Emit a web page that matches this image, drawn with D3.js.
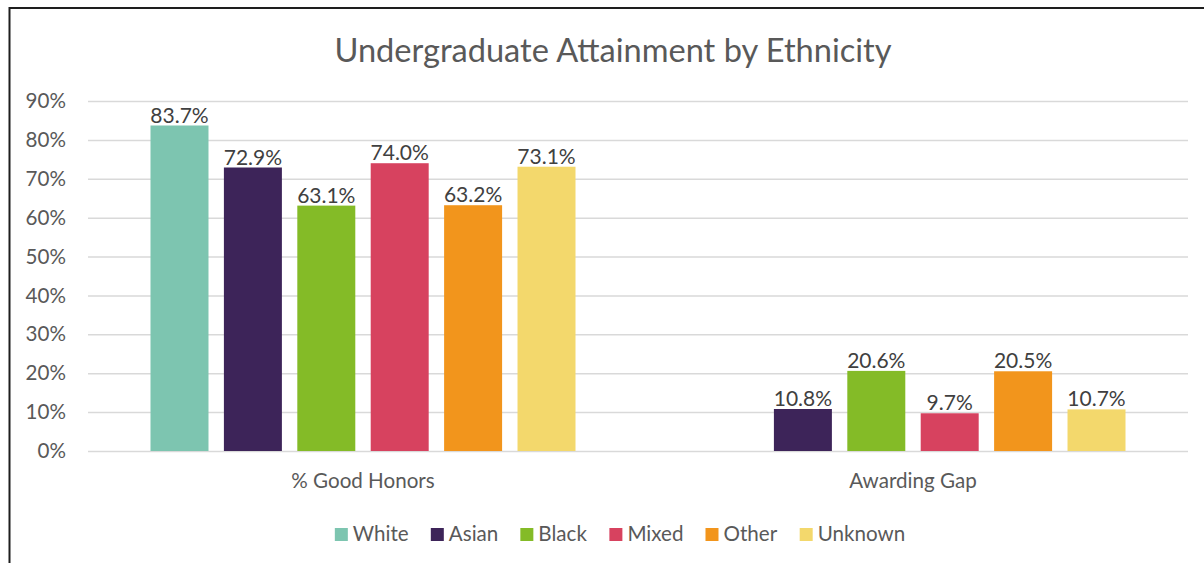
<!DOCTYPE html>
<html>
<head>
<meta charset="utf-8">
<script src="https://cdn.jsdelivr.net/npm/d3@7"></script>
<style>
  html, body { margin: 0; padding: 0; background: #fff; }
  svg { display: block; font-family: Lato, "Open Sans", sans-serif; }
</style>
</head>
<body>
<svg id="chart" width="1204" height="563"></svg>
<script>
// Chart data
const groups = ["% Good Honors", "Awarding Gap"];
const ethnicities = ["White", "Asian", "Black", "Mixed", "Other", "Unknown"];
const goodHonors = [83.7, 72.9, 63.1, 74.0, 63.2, 73.1];
const awardingGap = [null, 10.8, 20.6, 9.7, 20.5, 10.7];
const yTicks = [0, 10, 20, 30, 40, 50, 60, 70, 80, 90];
const colors = ["#7dc5b0", "#3d2459", "#84bb27", "#d7425f", "#f2951c", "#f3d86c"];
const title = "Undergraduate Attainment by Ethnicity";

const seriesByGroup = [goodHonors, awardingGap];
const rows = [];
groups.forEach((g, gi) => {
  ethnicities.forEach((e, ei) => {
    const v = seriesByGroup[gi][ei];
    if (v !== null) rows.push({ group: g, eth: e, value: v });
  });
});

const labelSize = 20.6;
const svg = d3.select("#chart");
const plot = { left: 88, right: 1188, top: 101, bottom: 451 };

// Frame
svg.append("rect")
  .attr("x", 9.5).attr("y", 8)
  .attr("width", 1300).attr("height", 700)
  .attr("fill", "none").attr("stroke", "#1e1e1e").attr("stroke-width", 2);

// Title
svg.append("text")
  .attr("x", 613).attr("y", 62)
  .attr("text-anchor", "middle")
  .attr("font-size", 32.6)
  .attr("fill", "#595959")
  .text(title);

// Scales
const y = d3.scaleLinear().domain([0, 90]).range([plot.bottom, plot.top]);
const x0 = d3.scaleBand().domain(groups).range([plot.left, plot.right]).padding(0);
const inset = 62.5;
const x1 = d3.scaleBand().domain(ethnicities)
  .range([inset, x0.bandwidth() - inset])
  .paddingInner(0.21).paddingOuter(0);
const color = d3.scaleOrdinal().domain(ethnicities).range(colors);

// Gridlines + y axis labels
const yAxis = d3.axisLeft(y).tickValues(yTicks)
  .tickSize(-(plot.right - plot.left))
  .tickPadding(22)
  .tickFormat(d => d + "%");
const ga = svg.append("g")
  .attr("transform", `translate(${plot.left},0)`)
  .call(yAxis);
ga.select(".domain").remove();
ga.selectAll(".tick line").attr("stroke", "#d9d9d9").attr("stroke-width", 1.5);
ga.selectAll(".tick text")
  .attr("font-size", labelSize)
  .attr("font-family", "Lato, 'Open Sans', sans-serif")
  .attr("fill", "#595959");

// Bars
svg.append("g").selectAll("rect")
  .data(rows)
  .join("rect")
  .attr("x", d => x0(d.group) + x1(d.eth))
  .attr("y", d => y(d.value))
  .attr("width", x1.bandwidth())
  .attr("height", d => y(0) - y(d.value))
  .attr("fill", d => color(d.eth));

// Value labels
svg.append("g").selectAll("text")
  .data(rows)
  .join("text")
  .attr("x", d => x0(d.group) + x1(d.eth) + x1.bandwidth() / 2)
  .attr("y", d => y(d.value) - 3)
  .attr("text-anchor", "middle")
  .attr("font-size", 21)
  .attr("fill", "#404040")
  .text(d => d.value.toFixed(1) + "%");

// Category labels
const xAxis = d3.axisBottom(x0).tickSize(0).tickPadding(22);
const gx = svg.append("g")
  .attr("transform", `translate(0,${plot.bottom})`)
  .call(xAxis);
gx.select(".domain").remove();
gx.selectAll(".tick text")
  .attr("font-size", labelSize)
  .attr("font-family", "Lato, 'Open Sans', sans-serif")
  .attr("fill", "#595959");

// Legend
const legend = svg.append("g");
const items = legend.selectAll("g").data(ethnicities).join("g");
items.append("rect")
  .attr("width", 13).attr("height", 13)
  .attr("y", -13)
  .attr("fill", d => color(d));
items.append("text")
  .attr("x", 18).attr("y", 0)
  .attr("font-size", labelSize)
  .attr("fill", "#595959")
  .text(d => d);
let cx = 0;
items.each(function () {
  const w = this.getBBox().width;
  d3.select(this).attr("transform", `translate(${cx},0)`);
  cx += w + 22;
});
const legendWidth = cx - 22;
legend.attr("transform", `translate(${620 - legendWidth / 2},541)`);
</script>
</body>
</html>
